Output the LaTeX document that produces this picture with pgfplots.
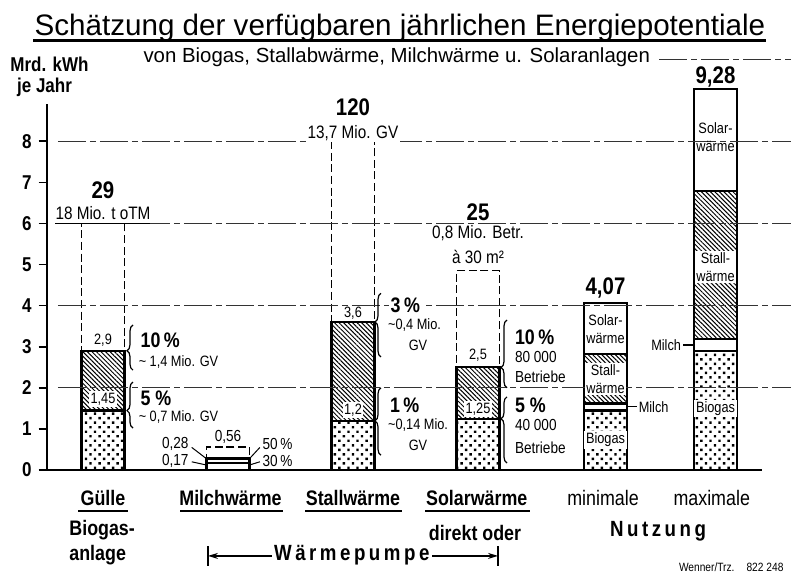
\documentclass[border=0pt]{standalone}
\usepackage{fontspec}
\setmainfont{Liberation Sans}
\newfontfamily\cf[FakeStretch=0.85]{Liberation Sans}
\newfontfamily\cfs[FakeStretch=0.85,LetterSpace=16]{Liberation Sans}
\usepackage{pgfplots}
\pgfplotsset{compat=1.18}
\usetikzlibrary{patterns.meta,decorations.pathreplacing,arrows.meta}
\newcommand{\tl}{{\char"007E}}
\tikzset{
  dotsbar/.style={fill=white, draw=black, line width=1.1pt,
    postaction={pattern={Dots[angle=45,distance=3.2pt,radius=0.85pt]}}},
  hatchbar/.style={fill=white, draw=black, line width=1.1pt,
    postaction={pattern={Lines[angle=-45,distance=1.6pt,line width=0.5pt]}}},
  whitebar/.style={fill=white, draw=black, line width=1.1pt},
  potbar/.style={fill=white, draw=black, line width=0.8pt, dash pattern=on 4pt off 1.8pt},
  gridl/.style={line width=0.5pt, black!80, dash pattern=on 14pt off 2pt on 3pt off 2pt},
  n7/.style={font=\cf\fontsize{7.5}{9}\selectfont, inner sep=0.8pt},
  n8/.style={font=\cf\fontsize{8}{9.5}\selectfont, inner sep=0.8pt},
  n9/.style={font=\cf\fontsize{9}{10}\selectfont, inner sep=0.8pt},
  n10/.style={font=\cf\bfseries\fontsize{10.5}{12}\selectfont, inner sep=0.8pt},
  b12/.style={font=\cf\bfseries\fontsize{12}{13}\selectfont, inner sep=0.8pt},
  cat/.style={font=\cf\bfseries\fontsize{10.5}{12}\selectfont, inner xsep=0.5pt, inner ysep=2.2pt},
  catl/.style={font=\cf\fontsize{10.5}{12}\selectfont, inner xsep=0.5pt, inner ysep=2.2pt},
  brace/.style={decorate, decoration={brace, amplitude=3pt, aspect=#1}, line width=0.6pt},
}
\pgfplotsset{common/.style={
  x=62.5pt, y=20.55pt,
  xmin=-0.45, xmax=5.27, ymin=0, ymax=8.9,
  clip=false}}
\begin{document}
\begin{tikzpicture}
\begin{axis}[
  common,
  axis x line=bottom, axis y line=left,
  axis line style={-, line width=1pt},
  ytick={0,...,8}, xtick=\empty,
  tick align=outside, major tick length=4pt,
  tick style={line width=0.8pt, black},
  yticklabel style={font=\cf\bfseries\fontsize{10}{10}\selectfont},
  /pgf/number format/assume math mode=true,
  ybar stacked, bar width=21.5pt,
]
% grid lines (drawn before the bars)
\draw[gridl] (axis cs:-0.36,2) -- (axis cs:5.5,2);
\draw[gridl] (axis cs:-0.36,4) -- (axis cs:5.5,4);
\draw[gridl] (axis cs:-0.36,6) -- (axis cs:5.5,6);
\draw[gridl] (axis cs:-0.36,8) -- (axis cs:5.5,8);
\draw[gridl] (axis cs:4.45,10) -- (axis cs:5.5,10);

% stacked bars: Guelle, Milch, Stall, Solar, minimale, maximale
\addplot[dotsbar]  coordinates {(0,1.45) (1,0) (2,1.2) (3,1.25) (4.02,1.45) (4.9,2.9)};
\addplot[whitebar] coordinates {(0,0) (1,0.17) (2,0) (3,0) (4.02,0.17) (4.9,0.28)};
\addplot[whitebar] coordinates {(0,0) (1,0.11) (2,0) (3,0) (4.02,0) (4.9,0)};
\addplot[hatchbar] coordinates {(0,1.45) (1,0) (2,2.4) (3,1.25) (4.02,1.2) (4.9,3.6)};
\addplot[whitebar] coordinates {(0,0) (1,0) (2,0) (3,0) (4.02,1.25) (4.9,2.5)};
\addplot[potbar]   coordinates {(0,3.1) (1,0.28) (2,4.4) (3,2.35) (4.02,0) (4.9,0)};
\end{axis}

\begin{axis}[common, hide axis]
% title
\node[font=\fontsize{14.8}{16}\selectfont, anchor=base, inner sep=0pt] at (axis cs:2.376,10.58) {Schätzung der verfügbaren jährlichen Energiepotentiale};
\draw[line width=1.2pt] (axis cs:-0.56,10.45) -- (axis cs:5.3,10.45);
\node[font=\fontsize{10.2}{12}\selectfont, fill=white, inner sep=1pt] at (axis cs:2.35,10.05) {von Biogas, Stallabwärme, Milchwärme u. Solaranlagen};
\node[font=\cf\bfseries\fontsize{10}{11}\selectfont, anchor=west, inner sep=0pt] at (axis cs:-0.744,9.88) {Mrd. kWh};
\node[font=\cf\bfseries\fontsize{10}{11}\selectfont, anchor=west, inner sep=0pt] at (axis cs:-0.69,9.32) {je Jahr};

% Guelle
\node[b12] at (axis cs:0,6.81) {29};
\node[n9, anchor=base] at (axis cs:0,6.1) {18 Mio. t oTM};
\draw[line width=0.8pt] (axis cs:-0.384,6) -- (axis cs:0.376,6);
\node[n7] at (axis cs:0,3.16) {2,9};
\node[n7, fill=white] at (axis cs:0,1.73) {1,45};
\draw[brace=0.43] (axis cs:0.24,2.43) -- (axis cs:0.24,3.53);
\draw[brace=0.38] (axis cs:0.24,1.02) -- (axis cs:0.24,2.14);
\node[n10, anchor=west] at (axis cs:0.285,3.16) {10\,\%};
\node[n7, anchor=west] at (axis cs:0.27,2.63) {\tl\ 1,4 Mio. GV};
\node[n10, anchor=west] at (axis cs:0.285,1.75) {5 \%};
\node[n7, anchor=west] at (axis cs:0.27,1.29) {\tl\ 0,7 Mio. GV};

% Milchwaerme
\node[n8] at (axis cs:1,0.80) {0,56};
\node[n8, anchor=east] at (axis cs:0.70,0.63) {0,28};
\node[n8, anchor=east] at (axis cs:0.70,0.22) {0,17};
\node[n8, anchor=west] at (axis cs:1.26,0.63) {50\,\%};
\node[n8, anchor=west] at (axis cs:1.26,0.22) {30\,\%};
\draw[line width=0.5pt] (axis cs:0.71,0.55) -- (axis cs:0.83,0.27);
\draw[line width=0.5pt] (axis cs:0.71,0.20) -- (axis cs:0.83,0.12);
\draw[line width=0.5pt] (axis cs:1.17,0.27) -- (axis cs:1.255,0.55);
\draw[line width=0.5pt] (axis cs:1.17,0.12) -- (axis cs:1.255,0.20);

% Stallwaerme
\node[b12] at (axis cs:2,8.83) {120};
\node[n9, fill=white] at (axis cs:2,8.2) {13,7 Mio. GV};
\node[n7] at (axis cs:2,3.82) {3,6};
\node[n7, fill=white] at (axis cs:2,1.46) {1,2};
\draw[brace=0.55] (axis cs:2.224,2.75) -- (axis cs:2.224,4.3);
\draw[brace=0.51] (axis cs:2.224,0.36) -- (axis cs:2.224,2.0);
\node[n10, anchor=west, fill=white] at (axis cs:2.285,4.01) {3\,\%};
\node[n7, anchor=west] at (axis cs:2.265,3.53) {\tl 0,4 Mio.};
\node[n7] at (axis cs:2.52,3.04) {GV};
\node[n10, anchor=west] at (axis cs:2.28,1.58) {1\,\%};
\node[n7, anchor=west] at (axis cs:2.265,1.09) {\tl 0,14 Mio.};
\node[n7] at (axis cs:2.52,0.61) {GV};

% Solarwaerme
\node[b12] at (axis cs:3,6.28) {25};
\node[n9] at (axis cs:3,5.77) {0,8 Mio. Betr.};
\node[n9] at (axis cs:3,5.18) {à 30 m²};
\node[n7] at (axis cs:3,2.8) {2,5};
\node[n7, fill=white] at (axis cs:3,1.48) {1,25};
\draw[brace=0.30] (axis cs:3.232,2.0) -- (axis cs:3.232,3.65);
\draw[brace=0.67] (axis cs:3.232,0.17) -- (axis cs:3.232,1.78);
\node[n10, anchor=west] at (axis cs:3.28,3.24) {10\,\%};
\node[n8, anchor=west] at (axis cs:3.28,2.75) {80 000};
\node[n8, anchor=west] at (axis cs:3.28,2.26) {Betriebe};
\node[n10, anchor=west] at (axis cs:3.28,1.58) {5 \%};
\node[n8, anchor=west] at (axis cs:3.28,1.09) {40 000};
\node[n8, anchor=west] at (axis cs:3.28,0.54) {Betriebe};

% minimale
\node[b12] at (axis cs:4.02,4.43) {4,07};
\node[n7, align=center] at (axis cs:4.02,3.42) {Solar-\\wärme};
\node[n7, align=center, fill=white] at (axis cs:4.02,2.22) {Stall-\\wärme};
\node[n7, fill=white] at (axis cs:4.02,0.73) {Biogas};
\draw[line width=0.6pt] (axis cs:4.19,1.54) -- (axis cs:4.27,1.54);
\node[n7, anchor=west] at (axis cs:4.27,1.54) {Milch};

% maximale
\node[b12] at (axis cs:4.9,9.56) {9,28};
\node[n7, align=center] at (axis cs:4.9,8.1) {Solar-\\wärme};
\node[n7, align=center, fill=white] at (axis cs:4.9,4.94) {Stall-\\wärme};
\node[n7, fill=white] at (axis cs:4.9,1.5) {Biogas};
\draw[line width=0.6pt] (axis cs:4.728,3.04) -- (axis cs:4.64,3.04);
\node[n7, anchor=east] at (axis cs:4.64,3.04) {Milch};

% category labels
\node[cat] at (axis cs:0,-0.68) {Gülle};
\node[cat] at (axis cs:1.02,-0.68) {Milchwärme};
\node[cat] at (axis cs:2.0,-0.68) {Stallwärme};
\node[cat] at (axis cs:2.99,-0.68) {Solarwärme};
\node[catl] at (axis cs:4.0,-0.68) {minimale};
\node[catl] at (axis cs:4.87,-0.68) {maximale};
\draw[line width=1pt] (axis cs:-0.2,-1.0) -- (axis cs:0.2,-1.0);
\draw[line width=1pt] (axis cs:0.616,-1.0) -- (axis cs:1.44,-1.0);
\draw[line width=1pt] (axis cs:1.616,-1.0) -- (axis cs:2.392,-1.0);
\draw[line width=1pt] (axis cs:2.576,-1.0) -- (axis cs:3.416,-1.0);
\node[cat, anchor=west] at (axis cs:-0.28,-1.46) {Biogas-};
\node[cat, anchor=west] at (axis cs:-0.28,-2.07) {anlage};
\node[cat] at (axis cs:2.976,-1.53) {direkt oder};
\node[font=\cfs\bfseries\fontsize{11}{12}\selectfont] at (axis cs:4.44,-1.5) {Nutzung};
\node[font=\cfs\bfseries\fontsize{11}{12}\selectfont] at (axis cs:1.99,-2.07) {Wärmepumpe};
\draw[line width=0.6pt, -{Stealth[length=5pt,width=3pt]}] (axis cs:1.352,-2.09) -- (axis cs:0.84,-2.09);
\draw[line width=0.6pt] (axis cs:0.84,-1.85) -- (axis cs:0.84,-2.33);
\draw[line width=0.6pt, -{Stealth[length=5pt,width=3pt]}] (axis cs:2.632,-2.09) -- (axis cs:3.16,-2.09);
\draw[line width=0.6pt] (axis cs:3.16,-1.85) -- (axis cs:3.16,-2.33);
\node[font=\cf\fontsize{6}{7}\selectfont, anchor=east] at (axis cs:5.5,-2.36) {Wenner/Trz.\quad 822 248};

\coordinate (BL) at (axis cs:-0.824,-2.482);
\coordinate (TR) at (axis cs:5.528,11.436);
\end{axis}
\pgfresetboundingbox
\path[use as bounding box] (BL) rectangle (TR);
\end{tikzpicture}
\end{document}
